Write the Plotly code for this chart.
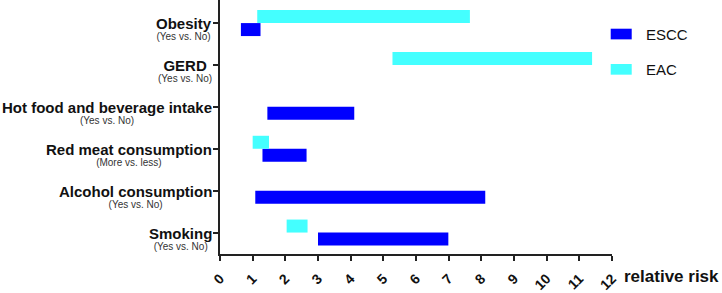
import plotly.graph_objects as go

categories = ["Obesity", "GERD", "Hot food and beverage intake",
              "Red meat consumption", "Alcohol consumption", "Smoking"]
comparisons = ["(Yes vs. No)", "(Yes vs. No)", "(Yes vs. No)",
               "(More vs. less)", "(Yes vs. No)", "(Yes vs. No)"]
escc_low = [0.64, None, 1.45, 1.30, 1.08, 3.00]
escc_high = [1.24, None, 4.11, 2.65, 8.12, 6.99]
eac_low = [1.14, 5.28, None, 1.00, None, 2.04]
eac_high = [7.65, 11.39, None, 1.50, None, 2.68]
x_ticks = list(range(0, 13))
series_names = ["ESCC", "EAC"]
series_colors = ["#0000ff", "#44ffff"]

def widths(lo, hi):
    return [None if a is None else b - a for a, b in zip(lo, hi)]

fig = go.Figure()
fig.add_trace(go.Bar(name=series_names[0], y=categories, x=widths(escc_low, escc_high),
                     base=escc_low, orientation="h", marker=dict(color=series_colors[0], line=dict(width=0))))
fig.add_trace(go.Bar(name=series_names[1], y=categories, x=widths(eac_low, eac_high),
                     base=eac_low, orientation="h", marker=dict(color=series_colors[1], line=dict(width=0))))

FONT = "Arial, Liberation Sans, sans-serif"
annotations = []
for cat, comp in zip(categories, comparisons):
    annotations.append(dict(
        xref="paper", yref="y", x=0, y=cat, xanchor="right", yanchor="top",
        xshift=-6, yshift=10, align="center", showarrow=False,
        text=(f"<b><span style='font-size:15px;color:#111'>{cat}</span></b><br>"
              f"<span style='font-size:10px;color:#333'>{comp}</span>"),
        font=dict(family=FONT, size=8.5, color="#111")))

annotations.append(dict(xref="paper", yref="paper", x=1.0, y=0, xanchor="left", yanchor="middle",
                        xshift=10, yshift=-22, showarrow=False,
                        text="<b>relative risk</b>", font=dict(family=FONT, size=17, color="#111")))

# manual legend
shapes = []
leg_y = [0.866, 0.727]
for name, col, yy in zip(series_names, series_colors, leg_y):
    shapes.append(dict(type="rect", xref="paper", yref="paper", x0=0.9967, x1=1.0503,
                       y0=yy - 0.021, y1=yy + 0.021, fillcolor=col, line=dict(width=0)))
    annotations.append(dict(xref="paper", yref="paper", x=1.082, y=yy, xanchor="left", yanchor="middle",
                            showarrow=False, text=name, font=dict(family=FONT, size=15, color="#111")))

fig.update_layout(
    width=722, height=293,
    margin=dict(l=220, r=110, t=0, b=29),
    plot_bgcolor="white", paper_bgcolor="white",
    barmode="group", bargap=0.38, bargroupgap=0,
    showlegend=False,
    annotations=annotations, shapes=shapes,
    font=dict(family=FONT, color="#111"),
)
fig.update_xaxes(range=[0, 12], tickvals=x_ticks, tickangle=-45,
                 showgrid=False, zeroline=False, showline=True, linecolor="#222", linewidth=2,
                 ticks="outside", ticklen=5, tickwidth=2, tickcolor="#222", ticklabelstandoff=4,
                 tickfont=dict(family=FONT, size=14, color="#111", weight="bold"))
fig.update_yaxes(type="category", categoryorder="array", categoryarray=list(reversed(categories)),
                 range=[-0.512, 5.551], showticklabels=False,
                 showgrid=False, zeroline=False, showline=True, linecolor="#222", linewidth=2,
                 ticks="outside", ticklen=5, tickwidth=2, tickcolor="#222")

fig.write_html("out.html", config={"displayModeBar": False},
               post_script="document.body.style.margin='0';")
